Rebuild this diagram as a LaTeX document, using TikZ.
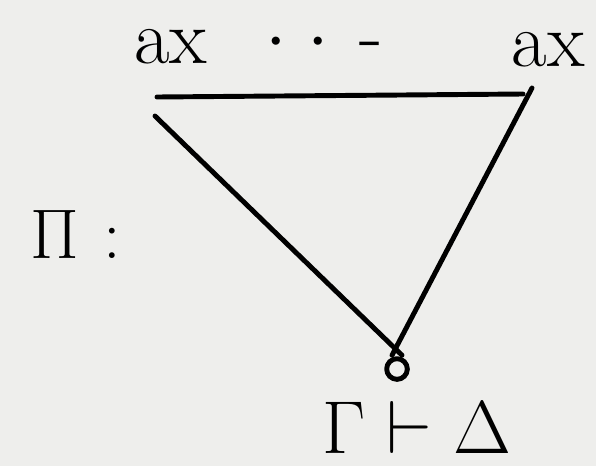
\documentclass[tikz,border=0pt]{standalone}
\usepackage{fix-cm}
\usepackage{amsmath}
\usepackage{tikz}
\usetikzlibrary{calc}
\definecolor{paper}{RGB}{238,238,236}

\begin{document}
\begin{tikzpicture}[x=0.03cm,y=-0.03cm]
	\tikzstyle{stroke}=[line width=4.2pt,line cap=round,line join=round]
	\tikzstyle{hand}=[inner sep=0pt,font=\fontsize{66}{72}\selectfont]

	\fill [paper] (0,0) rectangle (596,466);
	\useasboundingbox (0,0) rectangle (596,466);

	% leaves
	\node (axL) [hand] at (171,47) {ax};
	\node (axR) [hand] at (548,50) {ax};
	\node (dots) [hand, anchor=base] at (324,60) {$\cdot\mkern1mu\cdot\mkern3mu\text{-}$};

	% name of the proof
	\node (name) [hand, font=\fontsize{60}{66}\selectfont] at (76,234) {$\Pi$\hspace{0.35em}:};

	% root
	\node (knot) [stroke, circle, draw, inner sep=0pt, minimum size=0.62cm] at (397,369) {};
	\node (root) [hand, font=\fontsize{64}{70}\selectfont] at (417,427) {$\Gamma\vdash\Delta$};

	% the triangle
	\coordinate (ruleL) at (157,97);
	\coordinate (ruleR) at (523,94);
	\coordinate (sideL) at (155,116);
	\coordinate (sideR) at (532,88);

	\draw [stroke] (ruleL) -- (ruleR);
	\draw [stroke] (sideL) -- ($(knot.north)+(5,-1)$);
	\draw [stroke] (sideR) -- ($(knot.north)+(-5,-1)$);
\end{tikzpicture}
\end{document}
